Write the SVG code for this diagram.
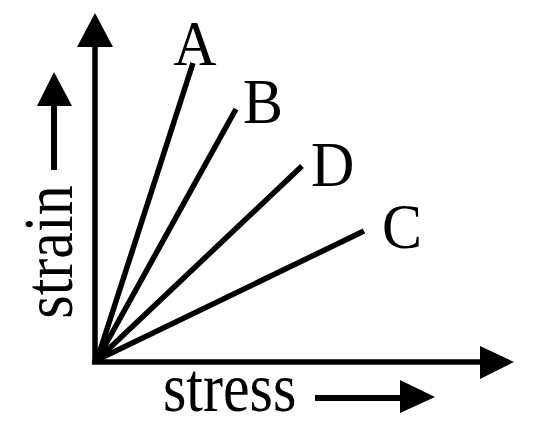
<svg xmlns="http://www.w3.org/2000/svg" width="537" height="431" viewBox="0 0 537 431">
<style>
.ln{stroke:#000;stroke-width:5.5;fill:none;stroke-linecap:butt}
.hd{fill:#000;stroke:none}
.lbl{font-family:"Liberation Serif","Times New Roman",serif;font-size:60px;fill:#000}
</style>
<g id="connectors">
<path class="ln" d="M95,364 V45"/>
<path class="hd" d="M95,13 L113,47 L77,47 Z"/>
<path class="ln" d="M92,362 H482"/>
<path class="hd" d="M514,362 L480,346 L480,379 Z"/>
<path class="ln" d="M97,360 L193,63"/>
<path class="ln" d="M97,360 L236,109"/>
<path class="ln" d="M97,360 L302,166"/>
<path class="ln" d="M97,360 L364,231"/>
<path class="ln" style="stroke-width:6" d="M54,170 V103"/>
<path class="hd" d="M54,72 L72,106 L37,106 Z"/>
<path class="ln" style="stroke-width:6" d="M315,398 H402"/>
<path class="hd" d="M435,397 L400,380 L400,413 Z"/>
</g>
<g id="label-A"><text class="lbl" transform="translate(195,65) scale(1,1.05)" text-anchor="middle">A</text></g>
<g id="label-B"><text class="lbl" transform="translate(243,123) scale(1,1.05)">B</text></g>
<g id="label-D"><text class="lbl" transform="translate(311,186) scale(1,1.05)">D</text></g>
<g id="label-C"><text class="lbl" transform="translate(382,248) scale(1,1.05)">C</text></g>
<g id="label-strain"><text class="lbl" transform="translate(72,252) rotate(-90) scale(1,1.15)" text-anchor="middle">strain</text></g>
<g id="label-stress"><text class="lbl" transform="translate(163,411) scale(1,1.15)">stress</text></g>
</svg>
